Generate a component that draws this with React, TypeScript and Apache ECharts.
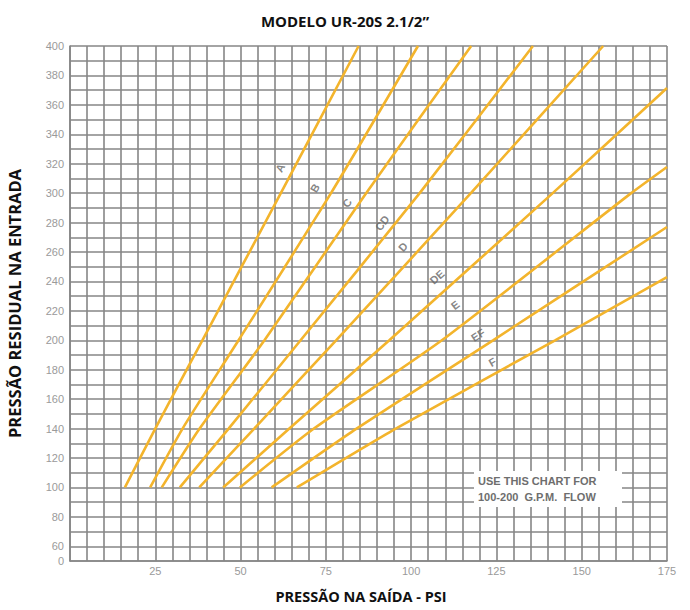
import React, { useEffect, useRef } from "react";
import * as echarts from "echarts";

// ---- data ----
const xTicks = [25, 50, 75, 100, 125, 150, 175];
const yTicks = [60, 80, 100, 120, 140, 160, 180, 200, 220, 240, 260, 280, 300, 320, 340, 360, 380, 400];

const curveNames = ["A", "B", "C", "CD", "D", "DE", "E", "EF", "F"];
const curveA = [[16.1, 100], [25, 140], [38.8, 200], [61.8, 300], [84.6, 400]];
const curveB = [[23.5, 100], [33, 140], [49.4, 200], [76.5, 300], [102, 400]];
const curveC = [[26.9, 100], [38, 140], [57, 200], [86.8, 300], [117.6, 400]];
const curveCD = [[32.2, 100], [46.5, 140], [67.6, 200], [102.5, 300], [135.7, 400]];
const curveD = [[37.9, 100], [54, 140], [78, 200], [117.5, 300], [156.3, 400]];
const curveDE = [[44.9, 100], [64.3, 140], [93.6, 200], [141.5, 300], [175, 371.5]];
const curveE = [[49.8, 100], [71.5, 140], [109, 200], [164.5, 300], [175, 317.8]];
const curveEF = [[59.1, 100], [84, 140], [124, 200], [175, 277]];
const curveF = [[66.5, 100], [95.5, 140], [142.2, 200], [175, 243]];
const curves = [curveA, curveB, curveC, curveCD, curveD, curveDE, curveE, curveEF, curveF];

// label anchor points along each curve (x, y) and their tilt in degrees
const labelX = [61.6, 71.8, 81.2, 91.5, 97.6, 107.6, 112.9, 119.6, 123.8];
const labelY = [317.1, 303.5, 293.3, 279.7, 263.4, 243, 224, 203.6, 185.2];
const labelTilt = [62, 59, 55, 52, 48, 42, 38, 33, 30];

const noteLines = ["USE THIS CHART FOR", "100-200  G.P.M.  FLOW"];

export default function App() {
  const ref = useRef<HTMLDivElement>(null);

  useEffect(() => {
    if (!ref.current) return;
    const chart = echarts.init(ref.current, null, { renderer: "svg" });

    const lineSeries = curves.map((pts, i) => ({
      name: curveNames[i],
      type: "line",
      data: pts,
      showSymbol: false,
      symbol: "none",
      smooth: 0.2,
      lineStyle: { color: "#F3B42C", width: 2.6 },
      z: 3,
    }));

    const labelSeries = {
      type: "scatter",
      symbolSize: 0,
      data: curveNames.map((n, i) => ({
        name: n,
        value: [labelX[i], labelY[i]],
        label: { rotate: labelTilt[i] },
      })),
      label: {
        show: true,
        position: "inside",
        formatter: (p: any) => p.name,
        color: "#666",
        fontWeight: "bold",
        fontSize: 11,
        fontFamily: "Liberation Sans, Arial, sans-serif",
      },
      z: 4,
    } as any;

    const noteFont = "bold 11px 'Liberation Sans', Arial, sans-serif";

    chart.setOption({
      animation: false,
      backgroundColor: "#fff",
      title: {
        text: "MODELO UR-20S 2.1/2\u201D",
        left: "center",
        top: 8,
        textStyle: {
          fontFamily: "Open Sans, sans-serif",
          fontWeight: "bold",
          fontSize: 15,
          color: "#111",
        },
      },
      grid: {
        left: 70,
        right: 23,
        top: 46,
        bottom: 49,
        containLabel: false,
        outerBoundsMode: "none",
      },
      xAxis: {
        type: "value",
        min: 0,
        max: 175,
        interval: 5,
        name: "PRESSÃO NA SAÍDA - PSI",
        nameLocation: "middle",
        nameGap: 28,
        nameTextStyle: {
          fontFamily: "Open Sans, sans-serif",
          fontWeight: "bold",
          fontSize: 14.5,
          color: "#111",
          padding: [0, 15, 0, 0],
        },
        axisLine: { show: true, lineStyle: { color: "#868686", width: 1.6 } },
        axisTick: { show: false },
        axisLabel: {
          color: "#9a9a9a",
          fontSize: 11,
          fontFamily: "Liberation Sans, Arial, sans-serif",
          margin: 4,
          showMaxLabel: true,
          formatter: (v: number) => (xTicks.indexOf(v) >= 0 ? String(v) : ""),
        },
        splitLine: { show: true, lineStyle: { color: "#868686", width: 1.6 } },
      },
      yAxis: {
        type: "value",
        min: 50,
        max: 400,
        interval: 10,
        name: "PRESSÃO RESIDUAL NA ENTRADA",
        nameLocation: "middle",
        nameGap: 47,
        nameTextStyle: {
          fontFamily: "Open Sans, sans-serif",
          fontWeight: "bold",
          fontSize: 16.5,
          color: "#111",
        },
        axisLine: { show: true, lineStyle: { color: "#868686", width: 1.6 } },
        axisTick: { show: false },
        axisLabel: {
          color: "#9a9a9a",
          fontSize: 11,
          fontFamily: "Liberation Sans, Arial, sans-serif",
          margin: 6,
          verticalAlignMinLabel: "middle",
          verticalAlignMaxLabel: "middle",
          formatter: (v: number) => (v === 50 ? "0" : yTicks.indexOf(v) >= 0 ? String(v) : ""),
        },
        splitLine: { show: true, lineStyle: { color: "#868686", width: 1.6 } },
      },
      graphic: [
        {
          type: "rect",
          left: 474,
          top: 471,
          z: 100,
          shape: { x: 0, y: 0, width: 148, height: 36 },
          style: { fill: "#ffffff", stroke: "none" },
        },
        {
          type: "text",
          left: 478,
          top: 475,
          z: 101,
          style: { text: noteLines[0], fill: "#6e6e6e", font: noteFont },
        },
        {
          type: "text",
          left: 478,
          top: 491,
          z: 101,
          style: { text: noteLines[1], fill: "#6e6e6e", font: noteFont },
        },
      ],
      series: [...lineSeries, labelSeries],
    } as any);

    return () => chart.dispose();
  }, []);

  return (
    <div
      ref={ref}
      style={{ position: "fixed", left: 0, top: 0, width: 690, height: 610, background: "#fff" }}
    />
  );
}
